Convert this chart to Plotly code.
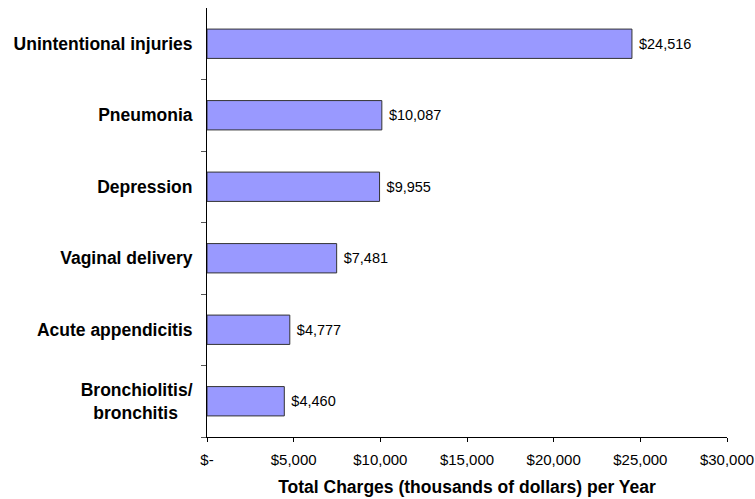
import plotly.graph_objects as go

categories = ["Unintentional injuries", "Pneumonia", "Depression", "Vaginal delivery",
              "Acute appendicitis", "Bronchiolitis/bronchitis"]
category_ticktext = ["Unintentional injuries", "Pneumonia", "Depression", "Vaginal delivery",
                     "Acute appendicitis", "Bronchiolitis/<br>bronchitis\u00a0\u00a0\u00a0"]
values = [24516, 10087, 9955, 7481, 4777, 4460]
labels = ["$24,516", "$10,087", "$9,955", "$7,481", "$4,777", "$4,460"]
tick_vals = [0, 5000, 10000, 15000, 20000, 25000, 30000]
tick_text = ["$-", "$5,000", "$10,000", "$15,000", "$20,000", "$25,000", "$30,000"]

FONT = "Liberation Sans, Arial, sans-serif"

fig = go.Figure(go.Bar(
    y=categories, x=values, orientation="h",
    marker=dict(color="#9999FF", line=dict(color="#333333", width=1)),
    text=labels, texttemplate="\u00a0%{text}", textposition="outside", cliponaxis=False,
    textfont=dict(family=FONT, size=14.5, color="#000000"),
    width=0.41,
))

fig.update_layout(
    width=755, height=499,
    margin=dict(l=207, r=28, t=8, b=62),
    paper_bgcolor="white", plot_bgcolor="white",
    showlegend=False,
    font=dict(family=FONT, color="#000000"),
    xaxis=dict(
        range=[0, 30000], tickvals=tick_vals, ticktext=tick_text,
        showgrid=False, zeroline=False, showline=True, linecolor="#000000", linewidth=1,
        ticks="outside", ticklen=4, tickcolor="#000000",
        tickfont=dict(size=15),
        ticklabelstandoff=5,
        automargin=False,
        title=dict(text="<b>Total Charges (thousands of dollars) per Year</b>",
                   font=dict(size=17.5), standoff=13),
    ),
    yaxis=dict(
        categoryorder="array", categoryarray=categories[::-1],
        tickvals=categories, ticktext=["<b>" + t + "</b>" for t in category_ticktext],
        showgrid=False, zeroline=False, showline=True, linecolor="#000000", linewidth=1,
        ticks="outside", ticklen=5, tickcolor="#555555", tickson="boundaries",
        tickfont=dict(size=17.5, family=FONT),
        ticklabelstandoff=10,
        automargin=False,
    ),
)

fig.write_html("out.html",
               config={"displayModeBar": False},
               post_script="document.body.style.margin='0';document.body.style.overflow='hidden';")
